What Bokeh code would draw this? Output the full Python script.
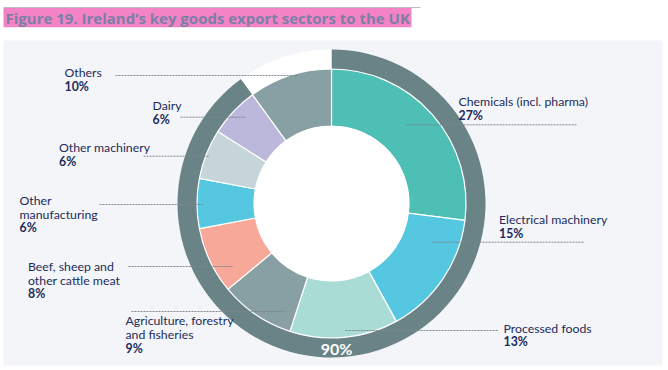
from bokeh.plotting import figure
from bokeh.models import Range1d
from bokeh.core.properties import value
from bokeh.embed import file_html
from bokeh.resources import INLINE
import numpy as np

# ---------------- data ----------------
sectors = ["Chemicals (incl. pharma)", "Electrical machinery", "Processed foods",
           "Agriculture, forestry and fisheries", "Beef, sheep and other cattle meat",
           "Other manufacturing", "Other machinery", "Dairy", "Others"]
shares = [27, 15, 13, 9, 8, 6, 6, 6, 10]
label_lines = [["Chemicals (incl. pharma)"], ["Electrical machinery"], ["Processed foods"],
               ["Agriculture, forestry", "and fisheries"], ["Beef, sheep and", "other cattle meat"],
               ["Other", "manufacturing"], ["Other machinery"], ["Dairy"], ["Others"]]
colors = ["#4dbfb4", "#55c7e0", "#a9dcd5", "#88a0a3", "#f7a898",
          "#55c7e0", "#c6d5d9", "#bbb8dc", "#88a0a3"]
ring_share = 90
title = "Figure 19. Ireland\u2019s key goods export sectors to the UK"

# ---------------- layout (screen px) ----------------
# label: (x, baseline of first line); leader: (x0, x1, y)
label_pos = [(458, 105.3), (498.5, 223.3), (503, 331.7), (125, 324.3), (27.5, 270),
             (19, 204), (58.5, 151), (152, 109.3), (64, 76)]
leaders = [(406, 577, 124.3), (431, 583, 241.7), (345, 498, 330), (131, 285, 311),
           (128, 233, 266), (99, 203, 204), (143, 208, 155.7), (180, 245, 116.7),
           (115, 298, 75)]
LINE = 13.7
FS = 12.3
cx, cy = 331, 203
r_hole, r_seg, r_ring = 77.5, 134.5, 154

def shift(fs):
    # baseline correction for the renderer
    return 0.33 * fs

W, H = 668, 370
p = figure(width=W, height=H, x_range=Range1d(0, W), y_range=Range1d(-H, 0),
           output_backend="svg", toolbar_location=None, x_axis_type=None, y_axis_type=None,
           min_border=0, outline_line_color=None)
p.background_fill_color = "white"
p.border_fill_color = "white"

# title highlight
p.line([3, 420], [-7, -7], line_color="#b9bdc8", line_width=1)
p.quad(left=3, right=411, top=-7.5, bottom=-26.7, fill_color="#f483c6", line_color=None)
p.text(x=[5], y=[-(22.7 - shift(15))], text=[title], text_font=value("Open Sans"),
       text_font_style="bold", text_font_size="15px", text_color="#7b7fa6",
       text_baseline="alphabetic")

# panel
p.quad(left=3, right=662, top=-40, bottom=-365, fill_color="#f3f5f8", line_color=None)

# outer ring
ring_deg = 360 * ring_share / 100
p.annular_wedge(x=cx, y=-cy, inner_radius=r_seg, outer_radius=r_ring,
                start_angle=np.deg2rad(90 - ring_deg), end_angle=np.deg2rad(90),
                fill_color="#6a8387", line_color=None)
p.annular_wedge(x=cx, y=-cy, inner_radius=r_seg - 1, outer_radius=r_ring,
                start_angle=np.deg2rad(90), end_angle=np.deg2rad(90 + 360 - ring_deg),
                fill_color="white", line_color=None)

# segments
cum = np.cumsum([0] + shares) / sum(shares)
starts = np.deg2rad(90 - 360 * cum[1:])
ends = np.deg2rad(90 - 360 * cum[:-1])
p.annular_wedge(x=cx, y=-cy, inner_radius=r_hole, outer_radius=r_seg,
                start_angle=list(starts), end_angle=list(ends),
                fill_color=colors, line_color="white", line_width=1.2)
p.circle(x=[cx], y=[-cy], radius=r_hole, fill_color="white", line_color=None)

# leader lines
for (x0, x1, y) in leaders:
    p.line([x0, x1], [-y, -y], line_color="#7d878c", line_width=1, line_dash="2 1")

# labels
for (x, y), lines, s in zip(label_pos, label_lines, shares):
    for i, t in enumerate(lines):
        p.text(x=[x], y=[-(y + i * LINE - shift(FS))], text=[t], text_font=value("Lato"),
               text_font_size=f"{FS}px", text_color="#1d2c5b", text_baseline="alphabetic")
    p.text(x=[x], y=[-(y + len(lines) * LINE - shift(FS))], text=[f"{s}%"],
           text_font=value("Lato"), text_font_style="bold", text_font_size=f"{FS}px",
           text_color="#1d2c5b", text_baseline="alphabetic")

# ring label
p.text(x=[cx + 5], y=[-(353.3 - shift(16))], text=[f"{ring_share}%"], text_font=value("Lato"),
       text_font_style="bold", text_font_size="16px", text_color="white",
       text_align="center", text_baseline="alphabetic")

open("out.html", "w").write(file_html(p, INLINE))
